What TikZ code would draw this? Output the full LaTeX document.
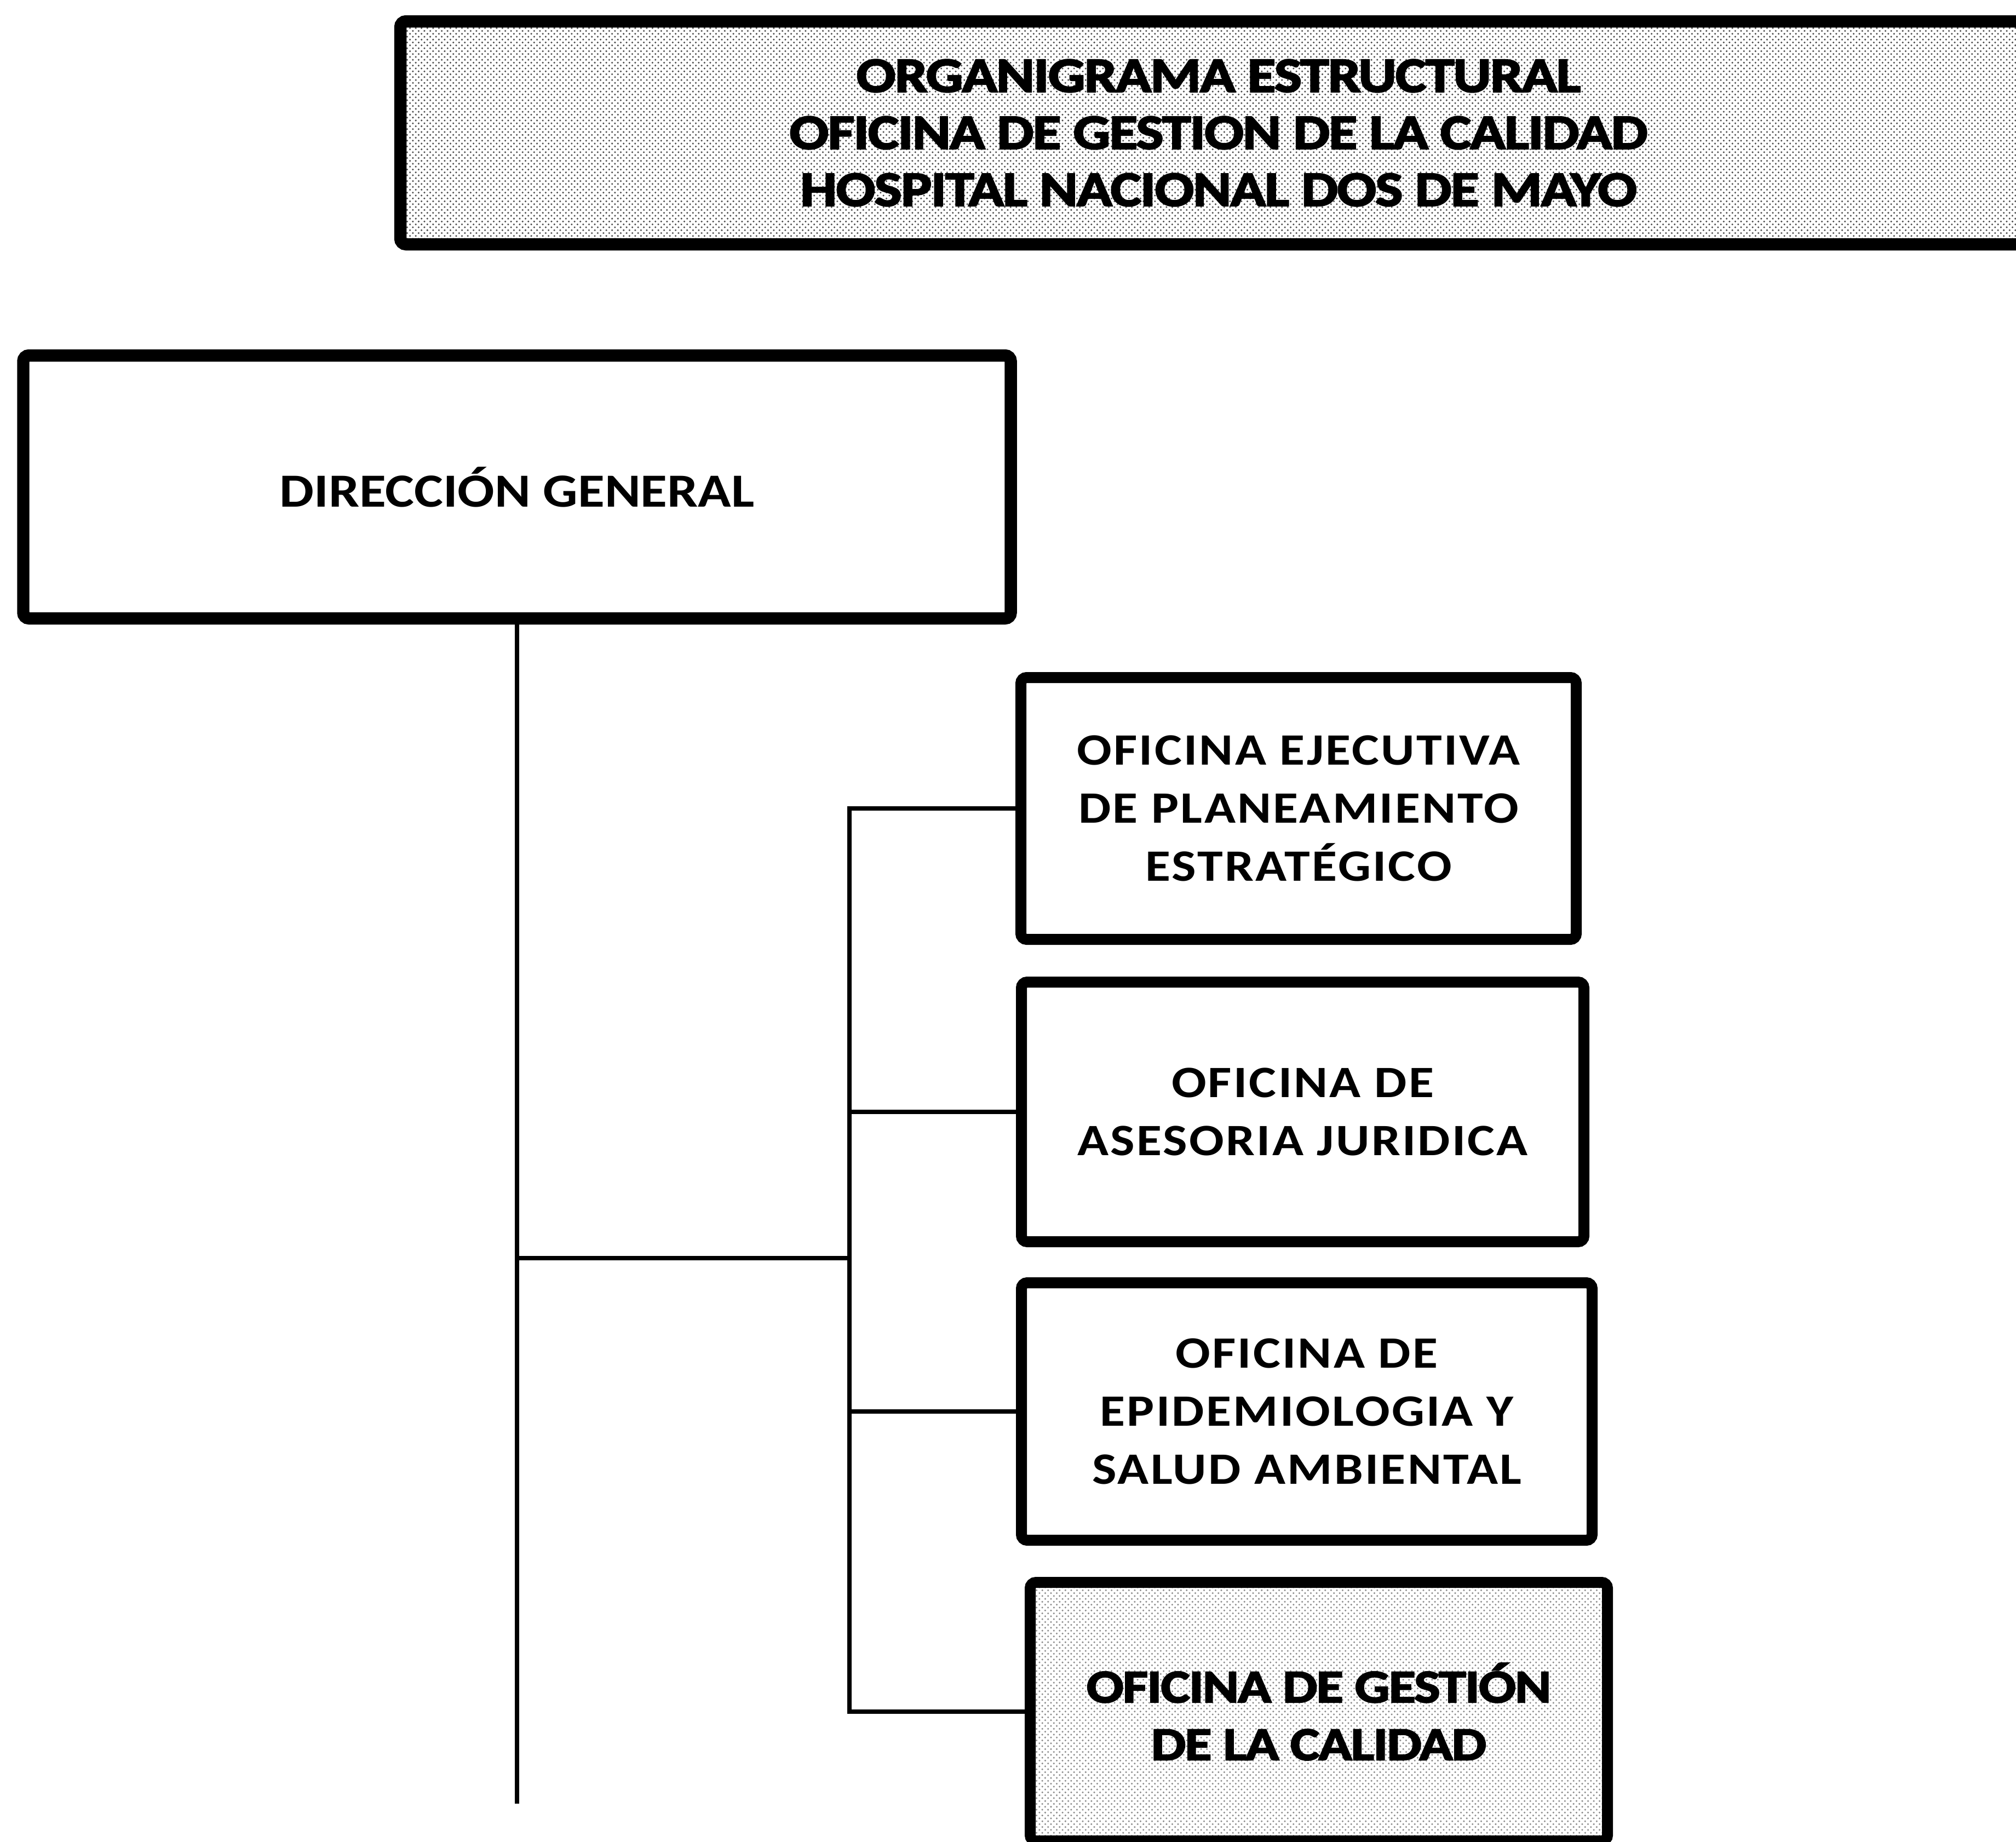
\documentclass[tikz,border=0pt]{standalone}
\usepackage{fontspec}
\usepackage{tikz}
\usetikzlibrary{positioning,patterns,backgrounds}
\setmainfont{Carlito}
\newfontfamily\plainfont{Carlito}[UprightFont=* Bold, FakeStretch=1.15]
\newfontfamily\spacedfont{Carlito}[UprightFont=* Bold, FakeStretch=1.15, LetterSpace=4]
\newfontfamily\heavyfont{Carlito}[UprightFont=* Bold, FakeStretch=1.18, FakeBold=3, LetterSpace=-2]
\tikzset{
  unitbox/.style={draw=black, fill=white, line width=5.7pt, rounded corners=3pt, align=center,
    inner sep=0pt, font=\spacedfont\fontsize{23.3}{30.2}\selectfont},
  headbox/.style={draw=black, fill=white, line width=6.4pt, rounded corners=3pt, align=center,
    inner sep=0pt, font=\plainfont\fontsize{24.7}{30}\selectfont},
  qualitybox/.style={draw=black, pattern=crosshatch dots, pattern color=black!45, line width=5.7pt,
    rounded corners=3pt, align=center, inner sep=0pt, font=\heavyfont\fontsize{24.2}{29.9}\selectfont},
  titlebox/.style={qualitybox, pattern color=black!70, line width=6.4pt,
    font=\heavyfont\fontsize{25.6}{29.6}\selectfont},
  link/.style={draw=black, line width=2.5pt},
}

\begin{document}
\begin{tikzpicture}
  \useasboundingbox (0,0) rectangle (36.81,-33.62);

  \node[titlebox, minimum width=29.88cm, minimum height=4.07cm] (title) at (22.25,-2.425)
    {ORGANIGRAMA ESTRUCTURAL\\OFICINA DE GESTION DE LA CALIDAD\\HOSPITAL NACIONAL DOS DE MAYO};

  \node[headbox, minimum width=18.03cm, minimum height=4.80cm] (dg) at (9.44,-8.89) {DIRECCIÓN GENERAL};

  \node[unitbox, minimum width=10.14cm, minimum height=4.78cm] (plan) at (23.71,-14.76)
    {OFICINA EJECUTIVA\\DE PLANEAMIENTO\\ESTRATÉGICO};
  \node[unitbox, minimum width=10.27cm, minimum height=4.74cm] (legal) at (23.785,-20.30)
    {OFICINA DE\\ASESORIA JURIDICA};
  \node[unitbox, minimum width=10.42cm, minimum height=4.70cm] (epid) at (23.86,-25.77)
    {OFICINA DE\\EPIDEMIOLOGIA Y\\SALUD AMBIENTAL};
  \node[qualitybox, minimum width=10.54cm, minimum height=4.72cm] (qual) at (24.08,-31.25)
    {OFICINA DE GESTIÓN\\DE LA CALIDAD};

  \coordinate (junc) at (9.44,-22.97);
  \coordinate (trunkend) at (9.44,-32.93);

  % conexiones
  \begin{scope}[on background layer]
    \draw[link] (dg.south) -- (trunkend);
    \draw[link] (plan.west) -- ++(-3.03,0) coordinate (bus) |- (qual.west);
    \draw[link] (legal.west) -- (legal.west -| bus);
    \draw[link] (epid.west) -- (epid.west -| bus);
    \draw[link] (junc) -- (junc -| bus);
  \end{scope}
\end{tikzpicture}
\end{document}
